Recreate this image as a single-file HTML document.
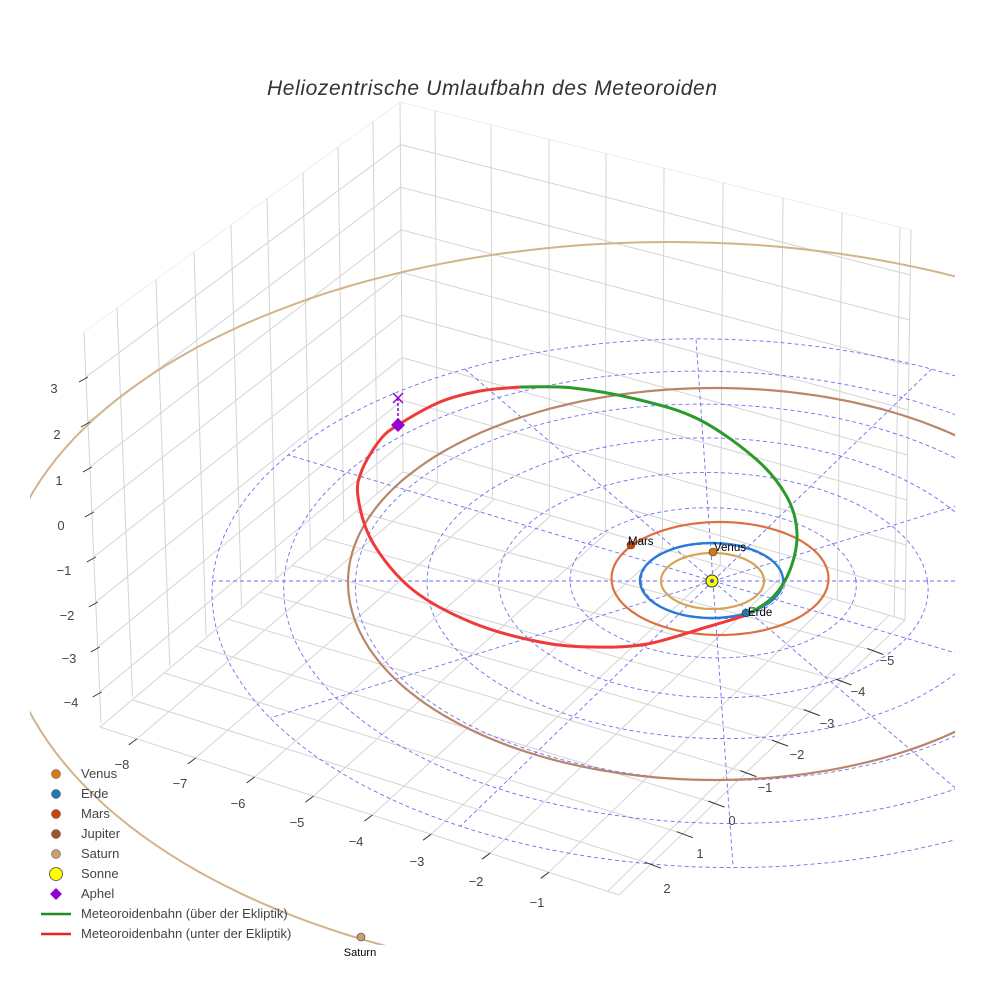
<!DOCTYPE html>
<html><head><meta charset="utf-8"><style>
html,body{margin:0;padding:0;background:#fff;width:984px;height:984px;overflow:hidden}
svg{display:block}
text{font-family:"Liberation Sans",sans-serif}
</style></head><body>
<svg id="s" width="984" height="984" viewBox="0 0 984 984" xmlns="http://www.w3.org/2000/svg">
<defs><clipPath id="c"><rect x="30" y="30" width="925" height="915"/></clipPath></defs>
<g id="grid" clip-path="url(#c)"></g>
<g id="plane" clip-path="url(#c)"></g>
<g id="top"></g>
<text x="492" y="95" text-anchor="middle" font-size="21" font-style="italic" fill="#333" textLength="450">Heliozentrische Umlaufbahn des Meteoroiden</text>
<g font-size="13" fill="#444">
<circle cx="56" cy="774" r="4.5" fill="#d07c10" stroke="#444" stroke-width="0.5"/><text x="81" y="778">Venus</text>
<circle cx="56" cy="794" r="4.5" fill="#1f77b4" stroke="#444" stroke-width="0.5"/><text x="81" y="798">Erde</text>
<circle cx="56" cy="814" r="4.5" fill="#c8460e" stroke="#444" stroke-width="0.5"/><text x="81" y="818">Mars</text>
<circle cx="56" cy="834" r="4.5" fill="#a0522d" stroke="#444" stroke-width="0.5"/><text x="81" y="838">Jupiter</text>
<circle cx="56" cy="854" r="4.5" fill="#c9a070" stroke="#444" stroke-width="0.5"/><text x="81" y="858">Saturn</text>
<circle cx="56" cy="874" r="6.5" fill="#ffff00" stroke="#444" stroke-width="0.8"/><text x="81" y="878">Sonne</text>
<path d="M56 888 L62 894 L56 900 L50 894Z" fill="#9400d3"/><text x="81" y="898">Aphel</text>
<line x1="41" y1="914" x2="71" y2="914" stroke="#228b22" stroke-width="2.5"/><text x="81" y="918">Meteoroidenbahn (über der Ekliptik)</text>
<line x1="41" y1="934" x2="71" y2="934" stroke="#ee2222" stroke-width="2.5"/><text x="81" y="938">Meteoroidenbahn (unter der Ekliptik)</text>
</g>
</svg>
<script>
(function(){
var G=document.getElementById('grid'),P=document.getElementById('plane'),T=document.getElementById('top');
var gs='',ps='',ts='';
function L(a,b,c,d,st){return '<line x1="'+a.toFixed(1)+'" y1="'+b.toFixed(1)+'" x2="'+c.toFixed(1)+'" y2="'+d.toFixed(1)+'" '+st+'/>';}
var gst='stroke="#d4d4d4" stroke-width="1"';
function leftEdge(z){return [84+(4-z)*1.96,332+(4-z)*45];}
function backEdge(z){return [400+(4-z)*0.35,102+(4-z)*42.6];}
function rightEdge(z){return [911-(4-z)*0.7,230+(4-z)*45];}
for(var z=-4;z<=3;z++){var a=leftEdge(z),b=backEdge(z),c=rightEdge(z);gs+=L(a[0],a[1],b[0],b[1],gst)+L(b[0],b[1],c[0],c[1],gst);}
var a=leftEdge(4),b=backEdge(4),c=rightEdge(4);
gs+=L(a[0],a[1],b[0],b[1],'stroke="#eee"')+L(b[0],b[1],c[0],c[1],'stroke="#eee"');
var lx=[373,338,303,267,231,194,156,117];
lx.forEach(function(x){var f=(x-84)/316;gs+=L(x,332-f*230,101+f*302,723-f*251,gst);});
var rx=[435,491,549,606,664,723,783,842,900];
rx.forEach(function(x){var f=(x-400)/511;gs+=L(x,102+f*128,403+f*502,472+f*148,gst);});
gs+=L(84,332,101,723,gst)+L(400,102,403,472,gst)+L(911,230,905,620,gst);
var BL=[100,727],F=[619,895],BR=[905,620],BB=[403,472];
function lerp(p,q,t){return [p[0]+(q[0]-p[0])*t,p[1]+(q[1]-p[1])*t];}
for(var y=-8;y<=0;y++){var t=0.071+(y+8)*0.1134;var p=lerp(BL,F,t),q=lerp(BB,BR,t*0.99);gs+=L(p[0],p[1],q[0],q[1],gst);}
for(var x=-5;x<=2;x++){var s=0.112+(2-x)*0.111;var p=lerp(F,BR,s),q=lerp(BL,BB,s*0.95);gs+=L(p[0],p[1],q[0],q[1],gst);}
gs+=L(BL[0],BL[1],F[0],F[1],gst)+L(F[0],F[1],BR[0],BR[1],gst)+L(BL[0],BL[1],BB[0],BB[1],gst)+L(BB[0],BB[1],BR[0],BR[1],gst);
G.innerHTML=gs;
var tk='stroke="#333" stroke-width="1"';
for(var z=-4;z<=3;z++){var e=leftEdge(z);ts+=L(e[0]+2,e[1],e[0]-7,e[1]+5,tk);}
var zl=[[3,54,393],[2,57,439],[1,59,485],[0,61,530],[-1,64,575],[-2,67,620],[-3,69,663],[-4,71,707]];
zl.forEach(function(d){ts+='<text x="'+d[1]+'" y="'+d[2]+'" font-size="13" fill="#444" text-anchor="middle">'+(d[0]<0?'\u2212'+(-d[0]):d[0])+'</text>';});
for(var y=-8;y<=-1;y++){var t=0.071+(y+8)*0.1134;var p=lerp(BL,F,t);ts+=L(p[0],p[1],p[0]-8,p[1]+6,tk);}
var yl=[[-8,122,769],[-7,180,788],[-6,238,808],[-5,297,827],[-4,356,846],[-3,417,866],[-2,476,886],[-1,537,907]];
yl.forEach(function(d){ts+='<text x="'+d[1]+'" y="'+d[2]+'" font-size="13" fill="#444" text-anchor="middle">\u2212'+(-d[0])+'</text>';});
for(var x=-5;x<=2;x++){var s=0.112+(2-x)*0.111;var p=lerp(F,BR,s);ts+=L(p[0]-6,p[1]-2,p[0]+10,p[1]+4,tk);}
var xl=[[2,667,893],[1,700,858],[0,732,825],[-1,765,792],[-2,797,759],[-3,827,728],[-4,858,696],[-5,887,665]];
xl.forEach(function(d){ts+='<text x="'+d[1]+'" y="'+d[2]+'" font-size="13" fill="#444" text-anchor="middle">'+(d[0]<0?'\u2212'+(-d[0]):d[0])+'</text>';});
var cx=713,cy=581,A=71.5,B=37.5,K=0.012;
function pr(u,v){var w=1+K*v;var Y=cy-B*v/w;return [cx+A*u/w+0.07*(Y-cy),Y];}
var dst='fill="none" stroke="#5555ee" stroke-opacity="0.85" stroke-width="0.9" stroke-dasharray="4,3"';
for(var r=1;r<=7;r++){var d='';for(var i=0;i<=180;i++){var th=i/180*2*Math.PI;var q=pr(r*Math.cos(th),r*Math.sin(th));d+=(i?'L':'M')+q[0].toFixed(1)+' '+q[1].toFixed(1);}ps+='<path d="'+d+'" '+dst+'/>';}
for(var k=0;k<12;k++){var th=k*Math.PI/6;var q=pr(7*Math.cos(th),7*Math.sin(th));ps+='<path d="M'+cx+' '+cy+'L'+q[0].toFixed(1)+' '+q[1].toFixed(1)+'" '+dst+'/>';}
function ell(cx,cy,rx,rt,rb,col,w){var d='';for(var i=0;i<=200;i++){var th=i/200*2*Math.PI;var s=Math.sin(th);var y=cy+(s<0?rt:rb)*s;d+=(i?'L':'M')+(cx+rx*Math.cos(th)).toFixed(1)+' '+y.toFixed(1);}return '<path d="'+d+'" fill="none" stroke="'+col+'" stroke-width="'+w+'"/>';}
ps+=ell(670,602,669,360,380,'#d2b48c',2);
ps+=ell(715,582,367,194,198,'#b8866a',2.2);
ps+=ell(720,578.5,108.5,56.5,56.5,'#de6f42',2.2);
ps+=ell(711.5,580.5,71.5,37.5,37.5,'#2b7bd6',2.4);
ps+=ell(712.5,581,51.5,28,28,'#d9a352',2.2);
function cr(pts){var d='M'+pts[0][0]+' '+pts[0][1];for(var i=0;i<pts.length-1;i++){var p0=pts[Math.max(0,i-1)],p1=pts[i],p2=pts[i+1],p3=pts[Math.min(pts.length-1,i+2)];var c1=[p1[0]+(p2[0]-p0[0])/6,p1[1]+(p2[1]-p0[1])/6],c2=[p2[0]-(p3[0]-p1[0])/6,p2[1]-(p3[1]-p1[1])/6];d+='C'+c1[0].toFixed(1)+' '+c1[1].toFixed(1)+' '+c2[0].toFixed(1)+' '+c2[1].toFixed(1)+' '+p2[0]+' '+p2[1];}return d;}
var red=[[747,615],[707,627],[647,644],[593,647],[540,642],[473,623],[413,590],[373,543],[358,497],[362,470],[380,440],[398,425],[440,402],[480,391],[520,387]];
var grn=[[520,387],[573,388],[640,400],[700,420],[757,460],[787,497],[797,533],[790,570],[773,597],[747,615]];
ps+='<path d="'+cr(red)+'" fill="none" stroke="#f03a3a" stroke-width="3"/>';
ps+='<path d="'+cr(grn)+'" fill="none" stroke="#2a9a2a" stroke-width="3"/>';
ps+='<line x1="398" y1="398" x2="398" y2="425" stroke="#9400d3" stroke-width="1.5" stroke-dasharray="3,2"/>';
ps+='<path d="M393 393L403 403M403 393L393 403" stroke="#9400d3" stroke-width="1.5"/>';
ps+='<path d="M398 418L405 425L398 432L391 425Z" fill="#9400d3"/>';
ps+='<circle cx="712" cy="581" r="6" fill="#ffff00" stroke="#333" stroke-width="1"/><circle cx="712" cy="581" r="2" fill="#4455cc"/>';
function pl(x,y,c){return '<circle cx="'+x+'" cy="'+y+'" r="4" fill="'+c+'" stroke="#333" stroke-width="0.6"/>';}
ps+=pl(713,552,'#d07c10')+pl(631,545,'#c8460e')+pl(746,613,'#1f77b4')+pl(361,937,'#c9a070');
ps+='<text x="714" y="551" font-size="11.5" fill="#000">Venus</text><text x="628" y="545" font-size="11.5" fill="#000">Mars</text><text x="748" y="616" font-size="11.5" fill="#000">Erde</text>';
P.innerHTML=ps;
T.innerHTML=ts+'<text x="360" y="956" font-size="11" fill="#000" text-anchor="middle">Saturn</text>';
})();
</script>
</body></html>
